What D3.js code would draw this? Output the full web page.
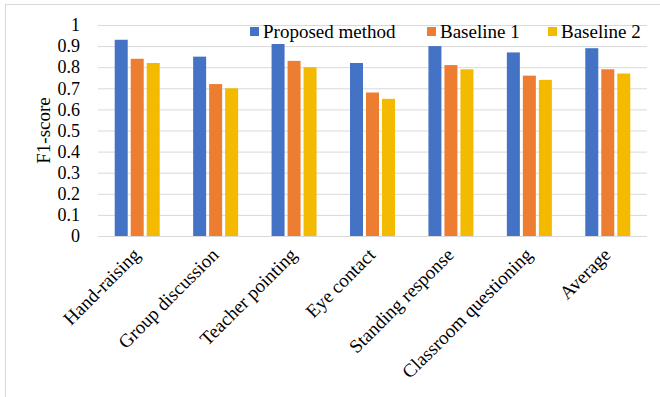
<!DOCTYPE html>
<html><head><meta charset="utf-8">
<script src="https://cdn.jsdelivr.net/npm/d3@7"></script>
<style>body{margin:0;background:#fff}svg{display:block}</style>
</head><body><svg id="c" width="660" height="397"></svg>
<script>
const categories = ["Hand-raising","Group discussion","Teacher pointing","Eye contact","Standing response","Classroom questioning","Average"];
const seriesNames = ["Proposed method","Baseline 1","Baseline 2"];
const proposed = [0.93,0.85,0.91,0.82,0.90,0.87,0.89];
const baseline1 = [0.84,0.72,0.83,0.68,0.81,0.76,0.79];
const baseline2 = [0.82,0.70,0.80,0.65,0.79,0.74,0.77];
const yTicks = [0,0.1,0.2,0.3,0.4,0.5,0.6,0.7,0.8,0.9,1];
const colors = ["#4472C4","#ED7D31","#F4BA00"];
const series = [proposed, baseline1, baseline2];
const FONT = "'Liberation Serif', 'Times New Roman', Tinos, 'DejaVu Serif', serif";

const svg = d3.select("#c");
const L=98, R=647, T=25, B=236;
svg.append("rect").attr("x",5.5).attr("y",4.5).attr("width",700).attr("height",450)
  .attr("fill","none").attr("stroke","#d9d9d9").attr("stroke-width",1);

const x = d3.scaleBand().domain(categories).range([L,R]);
const y = d3.scaleLinear().domain([0,1]).range([B,T]);

const gy = svg.append("g").attr("transform",`translate(${L},0)`)
  .call(d3.axisLeft(y).tickValues(yTicks).tickFormat(d=>d===0?"0":d===1?"1":d3.format(".1f")(d)).tickSize(-(R-L)).tickPadding(18));
gy.attr("font-family",null).attr("font-size",null);
gy.select(".domain").remove();
gy.selectAll(".tick line").attr("stroke","#d9d9d9");
gy.selectAll(".tick text").attr("font-family",FONT).attr("font-size","18px").attr("fill","#000");

const barW=13, gap=3;
const groupW = barW*3+gap*2;
series.forEach((vals,si)=>{
  svg.append("g").selectAll("rect").data(vals).join("rect")
    .attr("x",(d,i)=>x(categories[i])+x.bandwidth()/2-groupW/2+si*(barW+gap))
    .attr("y",d=>y(d)).attr("width",barW).attr("height",d=>B-y(d))
    .attr("fill",colors[si]);
});

categories.forEach(c=>{
  const cx = x(c)+x.bandwidth()/2+4;
  svg.append("text").attr("transform",`translate(${cx},${B+20}) rotate(-45)`)
    .attr("text-anchor","end").attr("font-family",FONT).attr("font-size","19px").text(c);
});

svg.append("text").attr("transform",`translate(50,${(T+B)/2}) rotate(-90)`)
  .attr("text-anchor","middle").attr("font-family",FONT).attr("font-size","19px").text("F1-score");

const legX = [250,427,548];
seriesNames.forEach((n,i)=>{
  svg.append("rect").attr("x",legX[i]).attr("y",27).attr("width",9).attr("height",9).attr("fill",colors[i]);
  svg.append("text").attr("x",legX[i]+13).attr("y",37.5).attr("font-family",FONT).attr("font-size","19px").text(n);
});
</script></body></html>
